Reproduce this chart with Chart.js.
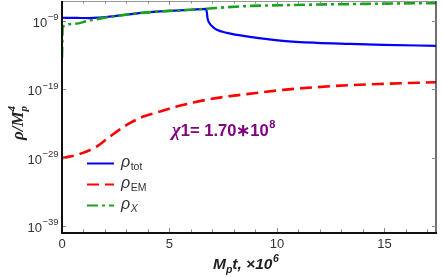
<!DOCTYPE html>
<html><head><meta charset="utf-8">
<script src="https://cdn.jsdelivr.net/npm/chart.js@4"></script>
<style>html,body{margin:0;padding:0;background:#fff;}#wrap{width:442px;height:277px;}</style>
</head><body><div id="wrap"><canvas id="c" width="442" height="277"></canvas></div>
<script>
// time axis in units of 10^6 / M_p ; values are log10(rho / M_p^4)
const timeTot = [0, 0.7, 1.3, 1.75, 2.2, 2.7, 3.4, 4.1, 5.0, 6.0, 6.7, 6.74, 6.77, 6.85, 7.0, 7.2, 7.67, 8.74, 10.28, 11.86, 13.4, 14.93, 17.4];
const log10RhoTot = [-8.55, -8.58, -8.6, -8.52, -8.38, -8.2, -7.95, -7.73, -7.55, -7.38, -7.24, -7.8, -8.6, -9.3, -9.85, -10.3, -10.76, -11.34, -11.93, -12.22, -12.37, -12.51, -12.66];
const timeEM = [0, 0.84, 1.61, 2.23, 3.01, 3.78, 4.56, 5.33, 6.11, 6.88, 7.66, 8.59, 10.29, 11.85, 13.4, 14.94, 17.4];
const log10RhoEM = [-29.1, -28.47, -27.4, -25.94, -24.23, -23.01, -22.28, -21.55, -20.96, -20.46, -20.08, -19.73, -19.1, -18.71, -18.41, -18.22, -17.98];
const timeX = [0, 0.03, 0.6, 1.2, 1.75, 2.2, 2.7, 3.4, 4.1, 5.0, 6.0, 6.7, 7.7, 8.74, 10.14, 11.86, 13.4, 15.0, 17.4];
const log10RhoX = [-14.4, -9.9, -9.44, -9.0, -8.68, -8.45, -8.22, -7.95, -7.73, -7.55, -7.38, -7.24, -7.0, -6.82, -6.72, -6.62, -6.55, -6.48, -6.4];
const xTicks = [0, 5, 10, 15];
const yTickExponents = [-9, -19, -29, -39];
const seriesNames = [['ρ', 'tot'], ['ρ', 'EM'], ['ρ', 'X']];
const annotationText = ['χ', '1= 1.70∗10', '8'];

const pts = (xs, ys) => xs.map((x, i) => ({x: x, y: ys[i]}));

const overlay = {
  id: 'overlay',
  afterDraw(chart) {
    const ctx = chart.ctx, a = chart.chartArea;
    const xs = chart.scales.x, ys = chart.scales.y;
    ctx.save();
    ctx.strokeStyle = '#999'; ctx.lineWidth = 1;
    ctx.beginPath(); ctx.moveTo(a.left, a.top + 0.5); ctx.lineTo(a.right, a.top + 0.5); ctx.stroke();
    ctx.strokeStyle = '#222'; ctx.lineWidth = 1.3;
    ctx.beginPath(); ctx.moveTo(a.right, a.top); ctx.lineTo(a.right, a.bottom); ctx.stroke();
    ctx.strokeStyle = '#888'; ctx.lineWidth = 1;
    for (let v = 0; v <= 17; v += 1) {
      const px = Math.round(xs.getPixelForValue(v)) + 0.5;
      const len = (v % 5 === 0) ? 4 : 2.5;
      ctx.beginPath(); ctx.moveTo(px, a.bottom); ctx.lineTo(px, a.bottom - len); ctx.stroke();
      ctx.beginPath(); ctx.moveTo(px, a.top); ctx.lineTo(px, a.top + len); ctx.stroke();
    }
    for (const e of yTickExponents) {
      const py = Math.round(ys.getPixelForValue(e)) + 0.5;
      ctx.beginPath(); ctx.moveTo(a.left, py); ctx.lineTo(a.left + 4, py); ctx.stroke();
      ctx.beginPath(); ctx.moveTo(a.right, py); ctx.lineTo(a.right - 4, py); ctx.stroke();
    }
    ctx.strokeStyle = '#111'; ctx.lineWidth = 2;
    ctx.beginPath(); ctx.moveTo(a.left, a.top); ctx.lineTo(a.left, a.bottom + 1); ctx.lineTo(a.right + 1, a.bottom + 1); ctx.stroke();
    // y tick labels with superscripts
    ctx.fillStyle = '#333';
    for (const e of yTickExponents) {
      const py = ys.getPixelForValue(e);
      const sup = '−' + String(-e);
      ctx.font = '9.5px "Liberation Sans", Arial, sans-serif';
      const sw = ctx.measureText(sup).width;
      ctx.textBaseline = 'alphabetic'; ctx.textAlign = 'left';
      const right = 58.5;
      ctx.fillText(sup, right - sw, py - 0.5);
      ctx.font = '13px "Liberation Sans", Arial, sans-serif';
      const bw = ctx.measureText('10').width;
      ctx.fillText('10', right - sw - bw - 0.5, py + 6);
    }
    // legend
    const lx0 = 87, lx1 = 114, tx = 121;
    const lys = [163, 184, 205];
    chart.data.datasets.forEach((ds, i) => {
      const y = lys[i];
      ctx.strokeStyle = ds.borderColor; ctx.lineWidth = 2;
      ctx.setLineDash(ds.borderDash || []);
      ctx.beginPath(); ctx.moveTo(lx0, y + 0.5); ctx.lineTo(lx1, y + 0.5); ctx.stroke();
      ctx.setLineDash([]);
      ctx.fillStyle = '#333'; ctx.textAlign = 'left'; ctx.textBaseline = 'alphabetic';
      ctx.font = 'italic 16px "Liberation Sans", Arial, sans-serif';
      ctx.fillText(seriesNames[i][0], tx, y + 4);
      const w = ctx.measureText(seriesNames[i][0]).width;
      ctx.font = (seriesNames[i][1] === 'X' ? 'italic ' : '') + '10.5px "Liberation Sans", Arial, sans-serif';
      ctx.fillText(seriesNames[i][1], tx + w + 0.5, y + 7);
    });
    // annotation
    ctx.fillStyle = '#800080'; ctx.textBaseline = 'alphabetic';
    let ax = 172; const ay = 136;
    ctx.font = 'italic bold 19px "Liberation Serif", serif';
    ctx.fillText(annotationText[0], ax, ay); ax += ctx.measureText(annotationText[0]).width;
    ctx.font = 'bold 16.5px "Liberation Sans", Arial, sans-serif';
    ctx.fillText(annotationText[1], ax, ay); ax += ctx.measureText(annotationText[1]).width;
    ctx.font = 'bold 11px "Liberation Sans", Arial, sans-serif';
    ctx.fillText(annotationText[2], ax + 0.5, ay - 8);
    // x axis title
    ctx.fillStyle = '#222';
    let bx = 213; const by = 269;
    ctx.font = 'italic bold 15.5px "Liberation Sans", Arial, sans-serif';
    ctx.fillText('M', bx, by); bx += ctx.measureText('M').width;
    ctx.font = 'italic bold 10.5px "Liberation Sans", Arial, sans-serif';
    ctx.fillText('p', bx, by + 4); bx += ctx.measureText('p').width;
    ctx.font = 'italic bold 15.5px "Liberation Sans", Arial, sans-serif';
    ctx.fillText('t, ×10', bx, by); bx += ctx.measureText('t, ×10').width;
    ctx.font = 'italic bold 10.5px "Liberation Sans", Arial, sans-serif';
    ctx.fillText('6', bx + 0.5, by - 7);
    // y axis title rotated
    ctx.save();
    ctx.translate(23, 140); ctx.rotate(-Math.PI / 2);
    let cx = 0;
    ctx.font = 'italic bold 17px "Liberation Serif", serif';
    ctx.fillText('ρ/M', cx, 0); cx += ctx.measureText('ρ/M').width;
    ctx.font = 'italic bold 11px "Liberation Serif", serif';
    ctx.fillText('p', cx, 4);
    ctx.fillText('4', cx, -8);
    ctx.restore();
    ctx.restore();
  }
};

new Chart(document.getElementById('c'), {
  type: 'line',
  data: {
    datasets: [
      {label: 'rho_tot', data: pts(timeTot, log10RhoTot), borderColor: '#0000ff', borderWidth: 2.2, order: 2},
      {label: 'rho_EM', data: pts(timeEM, log10RhoEM), borderColor: '#ff0000', borderWidth: 2.6, borderDash: [12, 6], order: 3},
      {label: 'rho_X', data: pts(timeX, log10RhoX), borderColor: '#1aa31a', borderWidth: 2.6, borderDash: [11, 4, 3, 4], order: 1}
    ]
  },
  options: {
    responsive: false, animation: false, devicePixelRatio: 1,
    layout: {padding: {top: 1, right: 6, left: 0, bottom: 0}},
    elements: {point: {radius: 0}, line: {cubicInterpolationMode: 'monotone', fill: false}},
    plugins: {legend: {display: false}, tooltip: {enabled: false}},
    scales: {
      x: {
        type: 'linear', min: 0, max: 17.4,
        border: {display: false},
        grid: {display: false, drawTicks: false},
        afterBuildTicks: s => { s.ticks = xTicks.map(v => ({value: v})); },
        ticks: {padding: 5, color: '#333', font: {family: '"Liberation Sans", Arial, sans-serif', size: 13}, maxRotation: 0},
        afterFit: s => { s.height = 45; }
      },
      y: {
        type: 'linear', min: -39.9, max: -6.1,
        border: {display: false},
        grid: {display: false, drawTicks: false},
        ticks: {display: false},
        afterFit: s => { s.width = 62; }
      }
    }
  },
  plugins: [overlay]
});
</script></body></html>
